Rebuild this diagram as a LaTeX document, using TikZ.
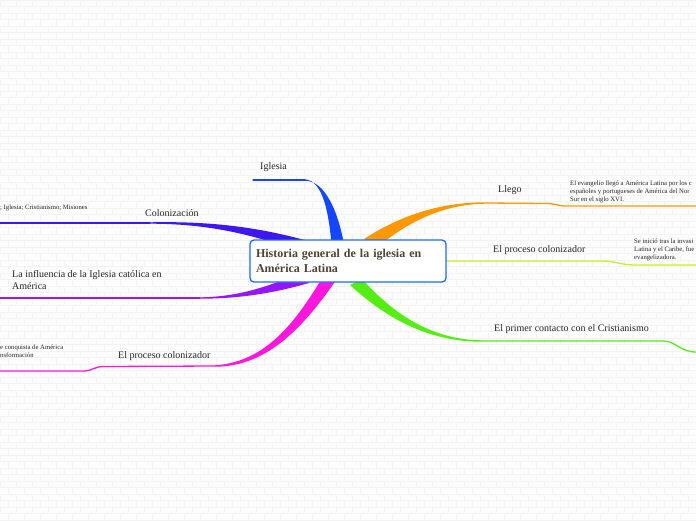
\documentclass[tikz,border=0pt]{standalone}
\usepackage{fontspec}
\setmainfont{Liberation Serif}
\usepackage{xcolor}
\usepackage{tikz}
\usetikzlibrary{positioning}
\definecolor{mapBlue}{RGB}{20,70,255}
\definecolor{mapIndigo}{RGB}{62,22,238}
\definecolor{mapViolet}{RGB}{150,22,250}
\definecolor{mapMagenta}{RGB}{255,22,222}
\definecolor{mapOrange}{RGB}{255,152,0}
\definecolor{mapLime}{RGB}{202,240,32}
\definecolor{mapGreen}{RGB}{84,238,20}
\definecolor{mapFrame}{RGB}{30,104,255}
\definecolor{mapInk}{RGB}{38,38,38}
\definecolor{mapRoot}{RGB}{80,66,52}
\definecolor{mapPaper}{RGB}{253,253,253}
\definecolor{mapBrick}{RGB}{243,243,243}
\tikzset{
  maproot/.style={draw=mapFrame,line width=1.3pt,rounded corners=4pt,fill=white,
    text width=184pt,inner xsep=6pt,minimum height=42pt,align=left,
    font=\bfseries\fontsize{12}{15}\selectfont,text=mapRoot},
  maptopic/.style={anchor=west,inner sep=0pt,font=\fontsize{10}{12.5}\selectfont,text=mapInk,align=left},
  mapnote/.style={anchor=west,inner sep=0pt,font=\fontsize{6.7}{8.2}\selectfont,text=mapInk,align=left},
  mapline/.style={line width=1.3pt,line cap=round},
}
\begin{document}
\begin{tikzpicture}[x=1pt,y=-1pt]
  \useasboundingbox (0,0) rectangle (696,520);

  % Faint brick wallpaper.
  \fill[mapPaper] (0,0) rectangle (696,520);
  \foreach \r in {0,...,80}{
    \pgfmathsetmacro{\yy}{\r*6.5}
    \pgfmathsetmacro{\oo}{mod(\r,2)*8}
    \draw[mapBrick,line width=0.4pt] (0,\yy) -- (696,\yy);
    \draw[mapBrick,line width=0.4pt]
      \foreach \k in {0,...,44}{(\k*16+\oo,\yy) -- ++(0,6.5)};
  }

  % Branch end points next to the labels.
  \coordinate (iglesiaEnd) at (253,180);
  \coordinate (coloEnd) at (0,223);
  \coordinate (influEnd) at (0,298);
  \coordinate (procLEnd) at (0,371);
  \coordinate (llegoEnd) at (696,206);
  \coordinate (procREnd) at (696,265);
  \coordinate (primerEnd) at (696,352);

  % Tapered branches, thick end hidden under the root box.
  \fill[mapBlue] (305,179.3) .. controls (323,181) and (329,212) .. (332,250)
    -- (345,250) .. controls (339,212) and (325,180.7) .. (305,180.7) -- cycle;
  \draw[mapline,mapBlue] (iglesiaEnd) -- (305,180);

  \fill[mapIndigo] (150,222.3) .. controls (215,221) and (262,228) .. (312,242)
    -- (307,254) .. controls (260,237) and (215,223.7) .. (150,223.7) -- cycle;
  \draw[mapline,mapIndigo] (coloEnd) -- (150,223);

  \fill[mapViolet] (200,297.3) .. controls (240,297) and (272,285) .. (303,272)
    -- (309,283) .. controls (274,293) and (240,298.7) .. (200,298.7) -- cycle;
  \draw[mapline,mapViolet] (influEnd) -- (200,298);

  \fill[mapMagenta] (215,365.3) .. controls (268,362) and (298,318) .. (324,275)
    -- (337,279) .. controls (306,323) and (270,366.7) .. (215,366.7) -- cycle;
  \draw[mapline,mapMagenta] (procLEnd) -- (84,371) .. controls (92,371) and (94,366.5) .. (104,366.5) -- (215,366);

  \fill[mapOrange] (487,202.3) .. controls (438,202) and (398,217) .. (364,239)
    -- (375,249) .. controls (404,225) and (440,203.7) .. (487,203.7) -- cycle;
  \draw[mapline,mapOrange] (llegoEnd) -- (566,206) .. controls (558,206) and (556,203.5) .. (546,203.5) -- (487,203);

  \draw[mapline,mapLime] (440,261) -- (602,261) .. controls (616,261) and (620,265) .. (636,265) -- (procREnd);

  \fill[mapGreen] (362,279) .. controls (392,312) and (430,340.3) .. (483,340.3)
    -- (483,341.7) .. controls (428,342) and (386,318) .. (350,285) -- cycle;
  \draw[mapline,mapGreen] (483,341) -- (663,341) .. controls (676,341) and (680,352) .. (primerEnd);

  % Root topic.
  \node[maproot] (root) at (348,261)
    {Historia general de la iglesia en\\Am\'erica Latina};

  % Topic labels above their branch lines.
  \node[maptopic] (iglesia) at (260,167) {Iglesia};
  \node[maptopic] (colonizacion) at (145,213) {Colonizaci\'on};
  \node[maptopic] (influencia) at (12,280)
    {La influencia de la Iglesia cat\'olica en\\Am\'erica};
  \node[maptopic] (procesoL) at (118,356) {El proceso colonizador};
  \node[maptopic] (llego) at (498,190) {Llego};
  \node[maptopic] (procesoR) at (493,250) {El proceso colonizador};
  \node[maptopic] (primer) at (494,329) {El primer contacto con el Cristianismo};

  % Notes, cut by the page edge.
  \node[mapnote] (coloNote) at (0,208) {; Iglesia; Cristianismo; Misiones};
  \node[mapnote] (procLNote) at (0,351)
    {e conquista de Am\'erica\\nsformaci\'on};
  \node[mapnote] (llegoNote) at (570,192)
    {El evangelio lleg\'o a Am\'erica Latina por los c\\espa\~noles y portugueses de Am\'erica del Nor\\Sur en el siglo XVI.};
  \node[mapnote] (procRNote) at (634,250)
    {Se inici\'o tras la invasi\\Latina y el Caribe, fue\\evangelizadora.};
\end{tikzpicture}
\end{document}
